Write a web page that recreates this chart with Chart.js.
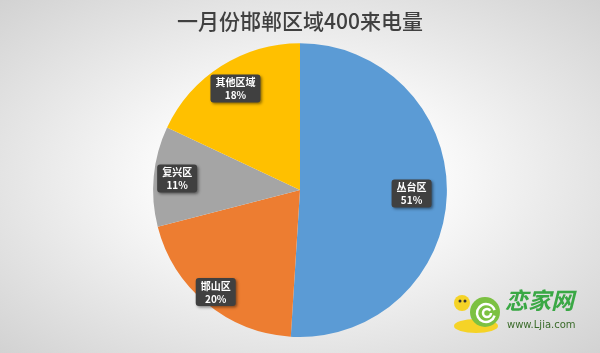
<!DOCTYPE html>
<html>
<head>
<meta charset="utf-8">
<script src="https://cdn.jsdelivr.net/npm/chart.js@4"></script>
<style>
html, body { margin: 0; padding: 0; }
#wrap {
  width: 600px; height: 353px; position: relative;
  background: radial-gradient(ellipse farthest-corner at 50% 50%, #ffffff 25%, #d2d2d2 100%);
}
</style>
</head>
<body>
<div id="wrap"><canvas id="graph1" width="600" height="353"></canvas></div>
<script>
var labels = ['丛台区', '邯山区', '复兴区', '其他区域'];
var values = [51, 20, 11, 18];
var colors = ['#5B9BD5', '#ED7D31', '#A5A5A5', '#FFC000'];

// label box placement as fraction of radius, per slice
var labelRadius = [0.76, 0.9, 0.84, 0.82];

var boxLabels = {
  id: 'boxLabels',
  afterDatasetsDraw: function (chart) {
    var ctx = chart.ctx;
    var meta = chart.getDatasetMeta(0);
    var total = values.reduce(function (a, b) { return a + b; }, 0);
    meta.data.forEach(function (arc, i) {
      var mid = (arc.startAngle + arc.endAngle) / 2;
      var r = arc.outerRadius * labelRadius[i];
      var x = arc.x + Math.cos(mid) * r;
      var y = arc.y + Math.sin(mid) * r;
      var pct = Math.round(values[i] / total * 100) + '%';
      ctx.save();
      ctx.font = 'bold 10px "Noto Sans CJK SC"';
      var w = Math.max(ctx.measureText(labels[i]).width, ctx.measureText(pct).width) + 10;
      var h = 28;
      ctx.shadowColor = 'rgba(0,0,0,0.45)';
      ctx.shadowBlur = 3;
      ctx.shadowOffsetX = 1.5;
      ctx.shadowOffsetY = 1.5;
      ctx.fillStyle = '#404040';
      ctx.beginPath();
      ctx.roundRect(x - w / 2, y - h / 2, w, h, 3);
      ctx.fill();
      ctx.shadowColor = 'transparent';
      ctx.fillStyle = '#ffffff';
      ctx.textAlign = 'center';
      ctx.textBaseline = 'middle';
      ctx.fillText(labels[i], x, y - 6);
      ctx.fillText(pct, x, y + 7);
      ctx.restore();
    });
  }
};

var watermark = {
  id: 'watermark',
  afterDraw: function (chart) {
    var ctx = chart.ctx;
    ctx.save();
    // snail
    ctx.fillStyle = '#f5d327';
    ctx.beginPath();
    ctx.ellipse(476, 326, 22, 7, 0, 0, Math.PI * 2);
    ctx.fill();
    ctx.beginPath();
    ctx.arc(462, 303, 8, 0, Math.PI * 2);
    ctx.fill();
    ctx.fillStyle = '#7cc142';
    ctx.beginPath();
    ctx.arc(485, 312, 15, 0, Math.PI * 2);
    ctx.fill();
    ctx.strokeStyle = '#ffffff';
    ctx.lineWidth = 2.5;
    ctx.beginPath();
    ctx.arc(486, 313, 9, 0.3, Math.PI * 1.9);
    ctx.stroke();
    ctx.beginPath();
    ctx.arc(487, 313, 4, 0, Math.PI * 1.8);
    ctx.stroke();
    ctx.fillStyle = '#333';
    ctx.beginPath();
    ctx.arc(460, 301, 1.5, 0, Math.PI * 2);
    ctx.arc(465, 301, 1.5, 0, Math.PI * 2);
    ctx.fill();
    // text
    ctx.fillStyle = '#3aa845';
    ctx.font = 'italic bold 23px "Noto Sans CJK SC"';
    ctx.textAlign = 'left';
    ctx.textBaseline = 'middle';
    ctx.fillText('恋家网', 505, 300);
    ctx.fillStyle = '#3a6b2a';
    ctx.font = '10px "DejaVu Sans"';
    ctx.fillText('www.Ljia.com', 507, 325);
    ctx.restore();
  }
};

var context = document.getElementById('graph1').getContext('2d');
var chart = new Chart(context, {
  type: 'pie',
  data: {
    labels: labels,
    datasets: [{
      data: values,
      backgroundColor: colors,
      borderWidth: 0
    }]
  },
  options: {
    responsive: false,
    animation: false,
    layout: { padding: { bottom: 16 } },
    plugins: {
      legend: { display: false },
      tooltip: { enabled: false },
      title: {
        display: true,
        text: '一月份邯郸区域400来电量',
        color: '#404040',
        font: { size: 21, family: '"Noto Sans CJK SC"', weight: 500 },
        padding: { top: 8, bottom: 10 }
      }
    }
  },
  plugins: [boxLabels, watermark]
});
</script>
</body>
</html>
